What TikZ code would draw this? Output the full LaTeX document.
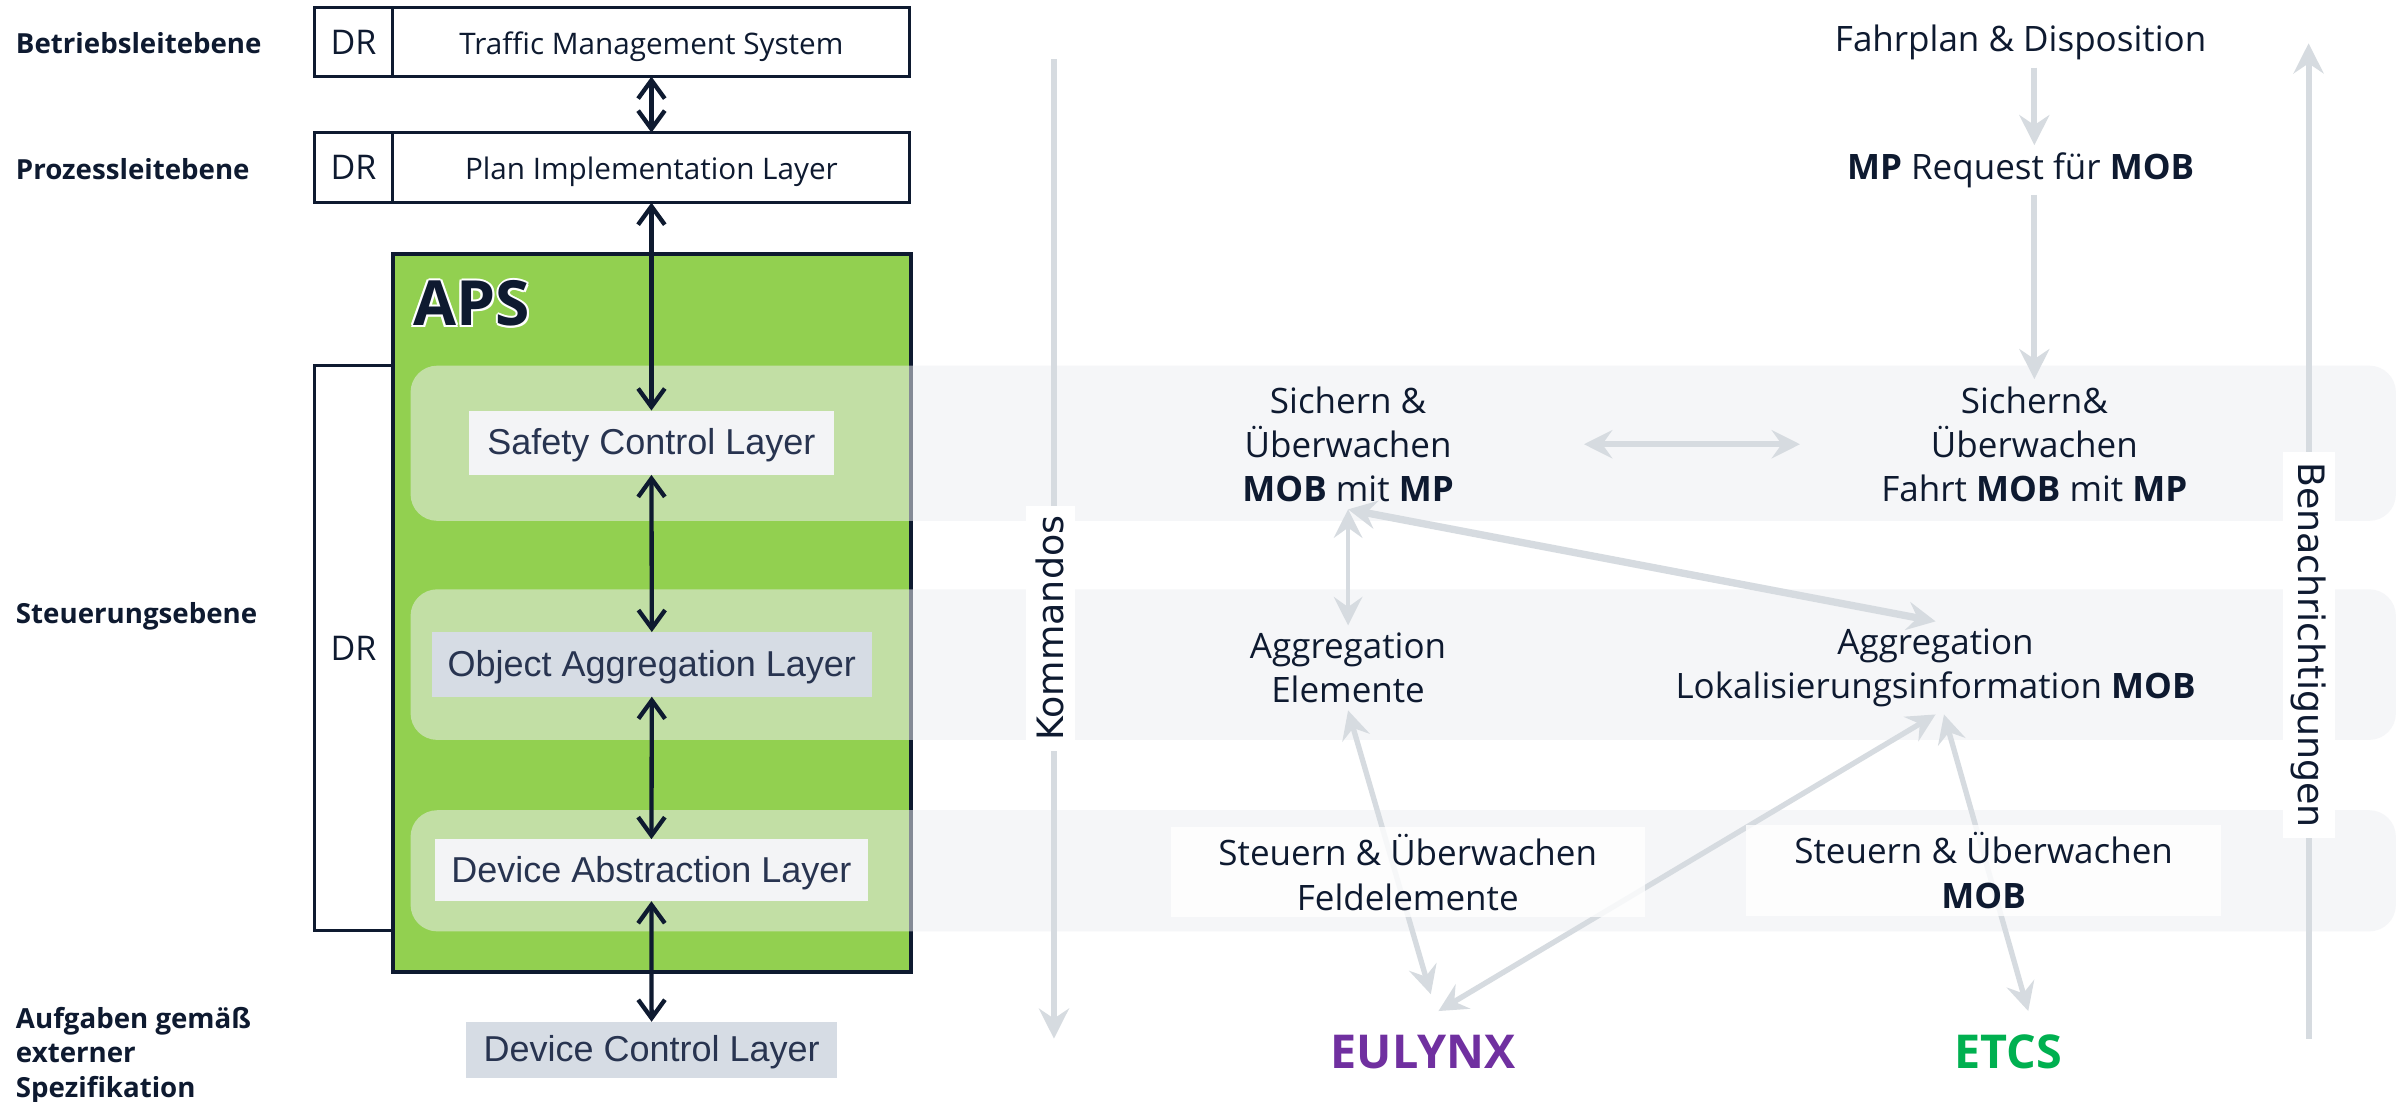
\documentclass[tikz,border=0pt]{standalone}
\usepackage{fontspec}
\setmainfont{Open Sans}
\newfontfamily\libfont{Liberation Sans}
\newfontfamily\dvfont{DejaVu Sans}
\usetikzlibrary{arrows.meta,calc}
\def\pxu{0.4596pt}
\definecolor{navy}{RGB}{14,26,48}
\definecolor{apsgreen}{RGB}{146,208,80}
\definecolor{bandc}{RGB}{237,238,242}
\definecolor{greyl}{RGB}{214,219,224}
\definecolor{lyrtxt}{RGB}{40,52,80}
\definecolor{lyrlight}{RGB}{243,244,246}
\definecolor{lyrblue}{RGB}{214,220,228}
\definecolor{eulc}{RGB}{112,48,160}
\definecolor{etcsc}{RGB}{0,176,80}
\newcommand\bnode[7]{\node[#6, minimum width={(#4-#2)*\pxu}, minimum height={(#5-#3)*\pxu}] (#1) at ({(#2+#4)/2},{(#3+#5)/2}) {#7};}
\tikzset{
  lbl/.style={font=\fontsize{8.3}{10.3}\selectfont\bfseries, text=navy, anchor=west, inner sep=0pt, align=left},
  cell/.style={draw=navy, line width=0.9pt, fill=white, inner sep=0pt, outer sep=0pt, text=navy, text height=0.72em, text depth=0pt},
  drfont/.style={font=\fontsize{10.2}{12}\selectfont},
  cellfont/.style={font=\fontsize{8.9}{11}\selectfont},
  apsbox/.style={draw=navy, line width=1.2pt, fill=apsgreen, inner sep=0pt, outer sep=0pt},
  band/.style={fill=bandc, fill opacity=0.53, rounded corners=8pt, inner sep=0pt, outer sep=0pt},
  layer/.style={inner sep=0pt, outer sep=0pt, font=\libfont\fontsize{10.8}{13}\selectfont, text=lyrtxt, text height=0.72em, text depth=0pt},
  apsfont/.style={font=\fontsize{18.7}{20}\selectfont\bfseries, inner sep=0pt, anchor=west},
  darr/.style={draw=navy, line width=1.3pt, {Straight Barb[length=5.5pt,width=8pt]}-{Straight Barb[length=5.5pt,width=8pt]}},
  garr/.style={draw=greyl, line width=1.8pt, -{Stealth[length=9pt,width=9pt,inset=3pt]}},
  garrD/.style={draw=greyl, line width=1.6pt, {Stealth[length=8.5pt,width=8.5pt,inset=3pt]}-{Stealth[length=8.5pt,width=8.5pt,inset=3pt]}},
  rtext/.style={font=\fontsize{10.5}{13.3}\selectfont, text=navy, align=center, inner sep=2pt},
  steubox/.style={fill=white, fill opacity=0.8, text opacity=1, inner sep=0pt, align=center, font=\fontsize{10.5}{13.6}\selectfont, text=navy},
  vtext/.style={fill=white, inner sep=0pt, font=\dvfont\fontsize{10.9}{13}\selectfont, text=navy},
  bigl/.style={font=\fontsize{14}{16}\selectfont\bfseries, inner sep=2pt}
}
\begin{document}
\begin{tikzpicture}[x=0.4596pt, y=-0.4596pt]
\fill[white] (0,0) rectangle (1568,719);
\useasboundingbox (0,0) rectangle (1568,719);

% left level labels
\node[lbl] (lev1) at (10,28) {Betriebsleitebene};
\node[lbl] (lev2) at (10,110.6) {Prozessleitebene};
\node[lbl] (lev3) at (10,402) {Steuerungsebene};
\node[lbl] (lev4) at (10,689) {Aufgaben gemäß\\externer\\Spezifikation};

% top boxes
\bnode{tmsdr}{205}{5}{256.5}{50}{cell,drfont}{DR}
\bnode{tms}{256.5}{5}{594}{50}{cell,cellfont}{Traffic Management System}
\bnode{pildr}{205}{86.6}{256.5}{132.3}{cell,drfont}{DR}
\bnode{pil}{256.5}{86.6}{594}{132.3}{cell,cellfont}{Plan Implementation Layer}

% DR bracket and APS box
\bnode{drbr}{205}{238.5}{256.5}{607.7}{cell,drfont}{DR}
\bnode{aps}{256.5}{166}{594.4}{634.5}{apsbox}{}

% bands
\bnode{band1}{268}{238.7}{1564}{340}{band}{}
\bnode{band2}{268}{384.7}{1564}{483}{band}{}
\bnode{band3}{268}{528.9}{1564}{608}{band}{}

% layer labels
\bnode{scl}{306}{268}{544.5}{310}{layer,fill=lyrlight}{Safety Control Layer}
\bnode{oal}{282}{412.6}{569}{454.8}{layer,fill=lyrblue}{Object Aggregation Layer}
\bnode{dal}{284}{547.8}{566.5}{588.3}{layer,fill=lyrlight}{Device Abstraction Layer}
\bnode{dcl}{304}{667}{546.7}{703.6}{layer,fill=lyrblue}{Device Control Layer}

% APS title with white outline
\foreach \dx/\dy in {1.4/0,-1.4/0,0/1.4,0/-1.4,1/1,1/-1,-1/1,-1/-1}
  \node[apsfont, text=white] at ({269.5+\dx},{198+\dy}) {APS};
\node[apsfont, text=navy] (apst) at (269.5,198) {APS};

% dark arrows
\draw[darr] (tms.south) -- (pil.north);
\draw[darr] (pil.south) -- (scl.north);
\draw[darr] (scl.south) -- (oal.north);
\draw[darr] (oal.south) -- (dal.north);
\draw[darr] (dal.south) -- (dcl.north);

% right-hand texts
\node[rtext] (fahr) at (1319,28) {Fahrplan \& Disposition};
\node[rtext] (mpreq) at (1319,111) {\textbf{MP} Request für \textbf{MOB}};
\node[rtext] (sich1) at (880,290) {Sichern \&\\Überwachen\\\textbf{MOB} mit \textbf{MP}};
\node[rtext] (sich2) at (1328,290) {Sichern\&\\Überwachen\\Fahrt \textbf{MOB} mit \textbf{MP}};
\node[rtext] (agg1) at (880,436) {Aggregation\\Elemente};
\node[rtext] (agg2) at (1263.5,436) {Aggregation\\Lokalisierungsinformation \textbf{MOB}};
\node[bigl, text=eulc] (eul) at (929,686.7) {EULYNX};
\node[bigl, text=etcsc] (etcs) at (1311,686.7) {ETCS};

% vertical command / notification arrows
\coordinate (k1) at (688,38.7);
\coordinate (k2) at (688,678);
\coordinate (b1) at (1507,678);
\coordinate (b2) at (1507,28.3);
\draw[garr] (k1) -- (k2);
\draw[garr] (b1) -- (b2);

% grey arrows
\draw[garr] (fahr.south -| sich2.center) -- (mpreq.north -| sich2.center);
\draw[garr] (mpreq.south -| sich2.center) -- (sich2.north);
\draw[garrD, line width=1.8pt] ([xshift={154*\pxu}]sich1.center) -- ([xshift={-153*\pxu}]sich2.center);
\draw[garrD, line width=1.4pt] (sich1.south) -- (agg1.north);
\draw[garrD, line width=2.2pt] (sich1.south) -- (agg2.north);
\draw[garrD] (agg1.south) -- ([shift={(5,-37.7)}]eul.center);
\draw[garrD] (agg2.south) -- ([shift={(10,-26.7)}]eul.center);
\draw[garrD] ([xshift={5.5*\pxu}]agg2.south) -- ([shift={(13,-26.7)}]etcs.center);

% rotated labels
\node[vtext, rotate=90, minimum width={160*\pxu}, minimum height={32*\pxu}] (komm) at (685.5,410) {Kommandos};
\node[vtext, rotate=-90, minimum width={252*\pxu}, minimum height={34*\pxu}] (bena) at (1507,421) {Benachrichtigungen};

% Steuern boxes
\bnode{steu1}{764.4}{540}{1073.5}{598.8}{steubox}{Steuern \& Überwachen\\Feldelemente}
\bnode{steu2}{1140}{538.5}{1449.8}{597.7}{steubox}{Steuern \& Überwachen\\\textbf{MOB}}
\end{tikzpicture}
\end{document}
